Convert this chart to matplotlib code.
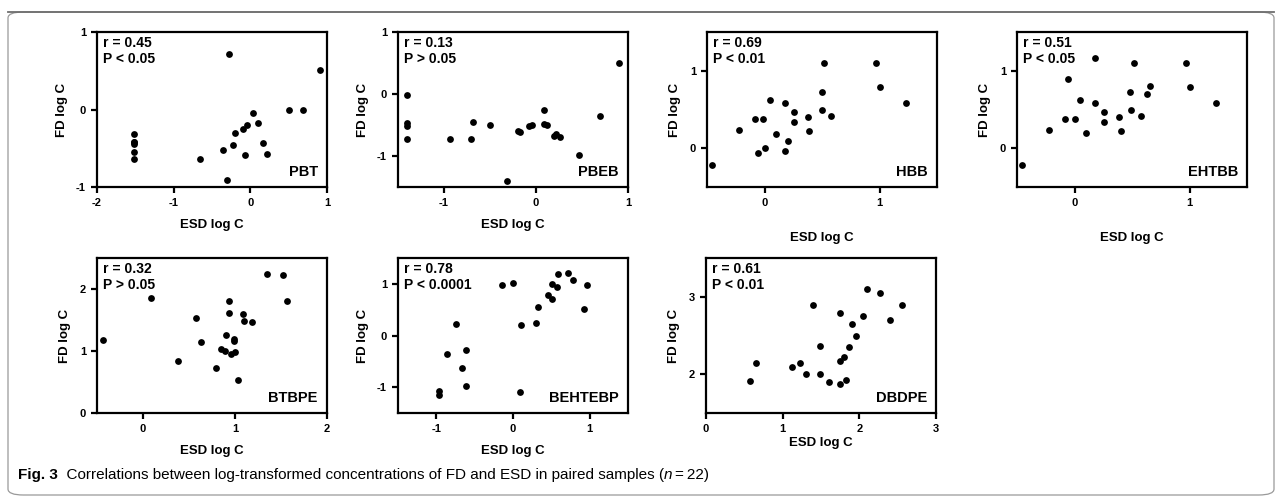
import matplotlib
matplotlib.use("Agg")
import matplotlib.pyplot as plt
from matplotlib.patches import FancyBboxPatch

plt.rcParams['font.family'] = ['Liberation Sans', 'DejaVu Sans']
plt.rcParams['axes.unicode_minus'] = False

# data (ESD log C, FD log C)
pbt_x = [-1.52, -1.52, -1.52, -1.52, -1.52, -1.52, -0.28, -0.66, -0.36, -0.31, -0.23,
         -0.20, -0.10, -0.04, 0.04, 0.10, 0.16, 0.22, -0.07, 0.51, 0.69, 0.91]
pbt_y = [-0.32, -0.42, -0.45, -0.55, -0.64, -0.42, 0.71, -0.64, -0.52, -0.91, -0.46,
         -0.30, -0.25, -0.20, -0.04, -0.17, -0.43, -0.58, -0.59, 0.0, 0.0, 0.51]

pbeb_x = [-1.40, -1.40, -1.40, -1.40, -0.93, -0.71, -0.68, -0.50, -0.31, -0.20, -0.17,
          -0.08, -0.04, 0.09, 0.09, 0.12, 0.20, 0.22, 0.26, 0.47, 0.70, 0.90]
pbeb_y = [-0.02, -0.46, -0.52, -0.73, -0.72, -0.73, -0.45, -0.50, -1.40, -0.59, -0.61,
          -0.51, -0.50, -0.25, -0.49, -0.50, -0.68, -0.64, -0.70, -0.98, -0.36, 0.50]

hbb_x = [-0.46, -0.22, -0.08, -0.06, -0.01, 0.0, 0.05, 0.10, 0.18, 0.18, 0.20,
         0.26, 0.26, 0.38, 0.39, 0.50, 0.50, 0.52, 0.58, 0.97, 1.00, 1.23]
hbb_y = [-0.22, 0.24, 0.38, -0.06, 0.38, 0.0, 0.62, 0.19, 0.58, -0.04, 0.10,
         0.47, 0.34, 0.40, 0.22, 0.72, 0.50, 1.10, 0.42, 1.10, 0.79, 0.58]

ehtbb_x = [-0.46, -0.22, -0.08, -0.06, 0.0, 0.05, 0.10, 0.18, 0.18, 0.26, 0.26,
           0.39, 0.40, 0.48, 0.49, 0.52, 0.58, 0.63, 0.66, 0.97, 1.00, 1.23]
ehtbb_y = [-0.22, 0.24, 0.38, 0.90, 0.38, 0.62, 0.20, 1.16, 0.58, 0.47, 0.34,
           0.40, 0.22, 0.72, 0.50, 1.10, 0.42, 0.70, 0.80, 1.10, 0.79, 0.58]

btbpe_x = [-0.44, 0.09, 0.38, 0.58, 0.63, 0.79, 0.85, 0.89, 0.90, 0.93, 0.94,
           0.96, 0.99, 0.99, 1.00, 1.03, 1.09, 1.10, 1.19, 1.35, 1.52, 1.57]
btbpe_y = [1.18, 1.86, 0.84, 1.54, 1.14, 0.73, 1.03, 1.00, 1.26, 1.61, 1.81,
           0.95, 1.16, 1.20, 0.99, 0.54, 1.60, 1.49, 1.46, 2.24, 2.22, 1.81]

behtebp_x = [-0.96, -0.96, -0.86, -0.75, -0.66, -0.61, -0.61, -0.15, 0.0, 0.09, 0.11,
             0.30, 0.33, 0.46, 0.51, 0.51, 0.59, 0.58, 0.72, 0.78, 0.92, 0.97]
behtebp_y = [-1.08, -1.15, -0.35, 0.22, -0.62, -0.29, -0.98, 0.98, 1.01, -1.10, 0.20,
             0.25, 0.56, 0.79, 0.71, 1.00, 1.19, 0.94, 1.21, 1.07, 0.51, 0.98]

dbdpe_x = [0.57, 0.65, 1.12, 1.23, 1.30, 1.39, 1.49, 1.49, 1.60, 1.75, 1.75,
           1.75, 1.80, 1.82, 1.87, 1.90, 1.95, 2.05, 2.10, 2.27, 2.40, 2.55]
dbdpe_y = [1.91, 2.15, 2.09, 2.14, 2.00, 2.89, 2.36, 2.00, 1.90, 1.87, 2.79,
           2.17, 2.22, 1.93, 2.35, 2.65, 2.50, 2.75, 3.10, 3.05, 2.70, 2.90]

names = ["PBT", "PBEB", "HBB", "EHTBB", "BTBPE", "BEHTEBP", "DBDPE"]
stats = ["r = 0.45\nP < 0.05", "r = 0.13\nP > 0.05", "r = 0.69\nP < 0.01",
         "r = 0.51\nP < 0.05", "r = 0.32\nP > 0.05", "r = 0.78\nP < 0.0001",
         "r = 0.61\nP < 0.01"]
xs = [pbt_x, pbeb_x, hbb_x, ehtbb_x, btbpe_x, behtebp_x, dbdpe_x]
ys = [pbt_y, pbeb_y, hbb_y, ehtbb_y, btbpe_y, behtebp_y, dbdpe_y]

xlims = [(-2, 1), (-1.5, 1), (-0.5, 1.5), (-0.5, 1.5), (-0.5, 2), (-1.5, 1.5), (0, 3)]
ylims = [(-1, 1), (-1.5, 1), (-0.5, 1.5), (-0.5, 1.5), (0, 2.5), (-1.5, 1.5), (1.5, 3.5)]
xticks = [[-2, -1, 0, 1], [-1, 0, 1], [0, 1], [0, 1], [0, 1, 2], [-1, 0, 1], [0, 1, 2, 3]]
yticks = [[-1, 0, 1], [-1, 0, 1], [0, 1], [0, 1], [0, 1, 2], [-1, 0, 1], [2, 3]]

W, H = 1282, 499
fig = plt.figure(figsize=(W / 100, H / 100), dpi=100)

# outer frame
frame = FancyBboxPatch((8 / W, 4 / H), 1266 / W, 483 / H,
                       boxstyle="round,pad=0,rounding_size=0.012",
                       transform=fig.transFigure, fill=False,
                       edgecolor="#9a9a9a", lw=0.9)
fig.patches.append(frame)
fig.add_artist(plt.Line2D([8 / W, 1274 / W], [1 - 12 / H, 1 - 12 / H],
                          transform=fig.transFigure, color="#6e6e6e", lw=1.3))

lefts = [97, 398, 707, 1017, 97, 398, 706]
tops = [32, 32, 32, 32, 258, 258, 258]
xpads = [8, 8, 17, 17, 8, 8, 2]

for i in range(7):
    l, t = lefts[i], tops[i]
    ax = fig.add_axes([l / W, 1 - (t + 155) / H, 230 / W, 155 / H])
    ax.scatter(xs[i], ys[i], s=24, color="black", zorder=3, clip_on=False,
               linewidths=0)
    ax.set_xlim(*xlims[i])
    ax.set_ylim(*ylims[i])
    ax.set_xticks(xticks[i])
    ax.set_yticks(yticks[i])
    for s in ax.spines.values():
        s.set_linewidth(1.6)
    ax.tick_params(width=1.6, length=4, labelsize=8, pad=4)
    for lab in ax.get_xticklabels() + ax.get_yticklabels():
        lab.set_fontweight("bold")
    ax.set_xlabel("ESD log C", fontsize=9.5, fontweight="bold", labelpad=xpads[i])
    ax.set_ylabel("FD log C", fontsize=9.5, fontweight="bold", labelpad=6)
    ax.text(0.025, 0.975, stats[i], transform=ax.transAxes, ha="left", va="top",
            fontsize=10, fontweight="bold", linespacing=1.15)
    ax.text(0.96, 0.05, names[i], transform=ax.transAxes, ha="right", va="bottom",
            fontsize=10.5, fontweight="bold")

# caption built from pieces
renderer = fig.canvas.get_renderer()
cap_font = ['Liberation Sans', 'DejaVu Sans']
pieces = [("Fig. 3", "bold", "normal"),
          ("  Correlations between log-transformed concentrations of FD and ESD in paired samples (", "normal", "normal"),
          ("n", "normal", "italic"),
          ("\u2009=\u200922)", "normal", "normal")]
x = 18
for txt, wt, st in pieces:
    tt = fig.text(x / W, 1 - 475 / H, txt, fontsize=11, fontweight=wt, fontstyle=st,
                  family=cap_font, va="center", ha="left")
    bb = tt.get_window_extent(renderer)
    x += bb.width

fig.savefig("out.png", dpi=100)
